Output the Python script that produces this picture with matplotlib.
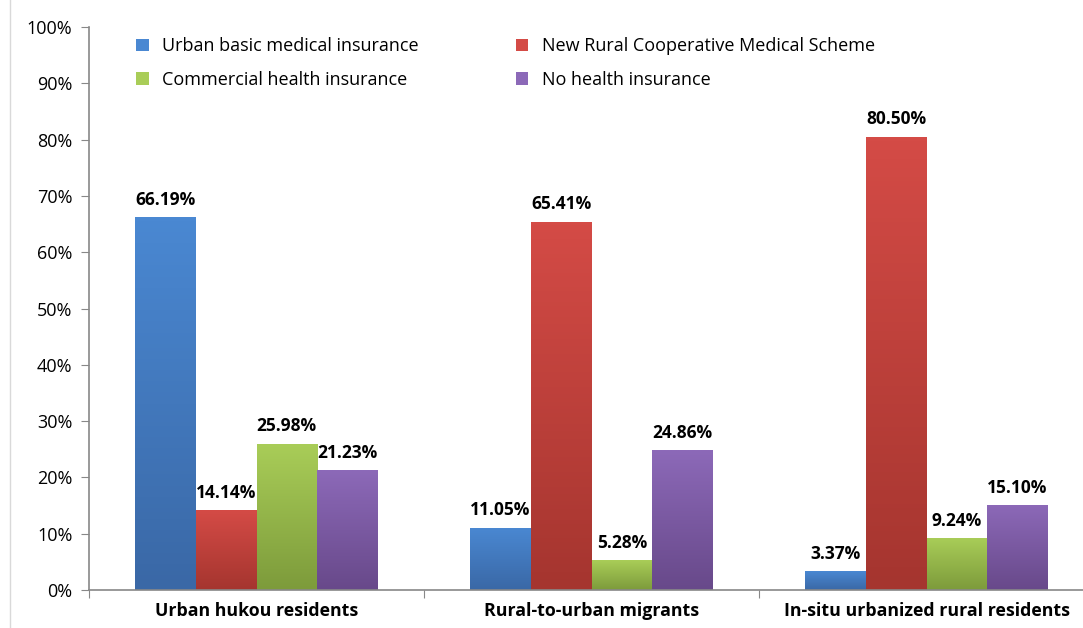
import numpy as np
import matplotlib.pyplot as plt
from matplotlib.patches import Patch
from matplotlib.colors import LinearSegmentedColormap

plt.rcParams['font.family'] = ['Open Sans', 'DejaVu Sans']

categories = ['Urban hukou residents', 'Rural-to-urban migrants', 'In-situ urbanized rural residents']
series = ['Urban basic medical insurance', 'New Rural Cooperative Medical Scheme',
          'Commercial health insurance', 'No health insurance']
urban_basic = [66.19, 11.05, 3.37]
new_rural = [14.14, 65.41, 80.50]
commercial = [25.98, 5.28, 9.24]
no_insurance = [21.23, 24.86, 15.10]

# (top colour, bottom colour) for each series
colors = [('#4a88d2', '#3a68a6'), ('#d44b46', '#a5352f'),
          ('#a9cd58', '#7d9b3b'), ('#8c69b8', '#68498a')]

fig = plt.figure(figsize=(10.83, 6.28), dpi=100)
ax = fig.add_axes([89 / 1083, 38 / 628, 1005 / 1083, 563 / 628])

x = np.arange(len(categories))
width = 0.181
values = [urban_basic, new_rural, commercial, no_insurance]
offsets = [-1.5, -0.5, 0.5, 1.5]

grad = np.linspace(0, 1, 100).reshape(-1, 1)
for vals, off, (top, bot) in zip(values, offsets, colors):
    bars = ax.bar(x + off * width, vals, width, color=top, edgecolor='none', zorder=2)
    cmap = LinearSegmentedColormap.from_list('g', [bot, top])
    for b, v in zip(bars, vals):
        x0 = b.get_x()
        im = ax.imshow(grad, cmap=cmap, origin='lower', aspect='auto',
                       extent=[x0, x0 + b.get_width(), 0, b.get_height()], zorder=2)
        im.set_clip_path(b)
        ax.text(x0 + b.get_width() / 2, v + 1.5, f'{v:.2f}%', ha='center', va='bottom',
                fontsize=12.5, fontweight='bold', color='black', zorder=3)

ax.set_xlim(-0.5, 2.5)
ax.set_ylim(0, 100)
ax.set_yticks(np.arange(0, 101, 10))
ax.set_yticklabels([f'{t}%' for t in range(0, 101, 10)], fontsize=13)
ax.set_xticks([-0.5, 0.5, 1.5, 2.5])
ax.set_xticklabels([])
ax.set_xticks(x, minor=True)
ax.set_xticklabels(categories, minor=True, fontsize=12.8, fontweight='bold')
ax.tick_params(axis='x', which='minor', length=0, pad=9)
ax.tick_params(axis='x', which='major', length=6, color='#888888', direction='out')
ax.tick_params(axis='y', length=6, color='#888888', direction='out', pad=6)
for s in ['top', 'right']:
    ax.spines[s].set_visible(False)
for s in ['left', 'bottom']:
    ax.spines[s].set_color('#888888')
    ax.spines[s].set_linewidth(1.2)

handles = [Patch(facecolor=colors[i][0], edgecolor='none') for i in [0, 2, 1, 3]]
labels = [series[i] for i in [0, 2, 1, 3]]
fig.legend(handles, labels, ncol=2, loc='upper left', bbox_to_anchor=(120 / 1083, 1 - 21 / 628),
           frameon=False, fontsize=13, handlelength=0.7, handleheight=0.7,
           columnspacing=5.35, labelspacing=0.85, handletextpad=0.75)

fig.add_artist(plt.Line2D([10 / 1083, 10 / 1083], [0, 1], color='#d9d9d9', lw=1))

fig.savefig('out.png', dpi=100)
